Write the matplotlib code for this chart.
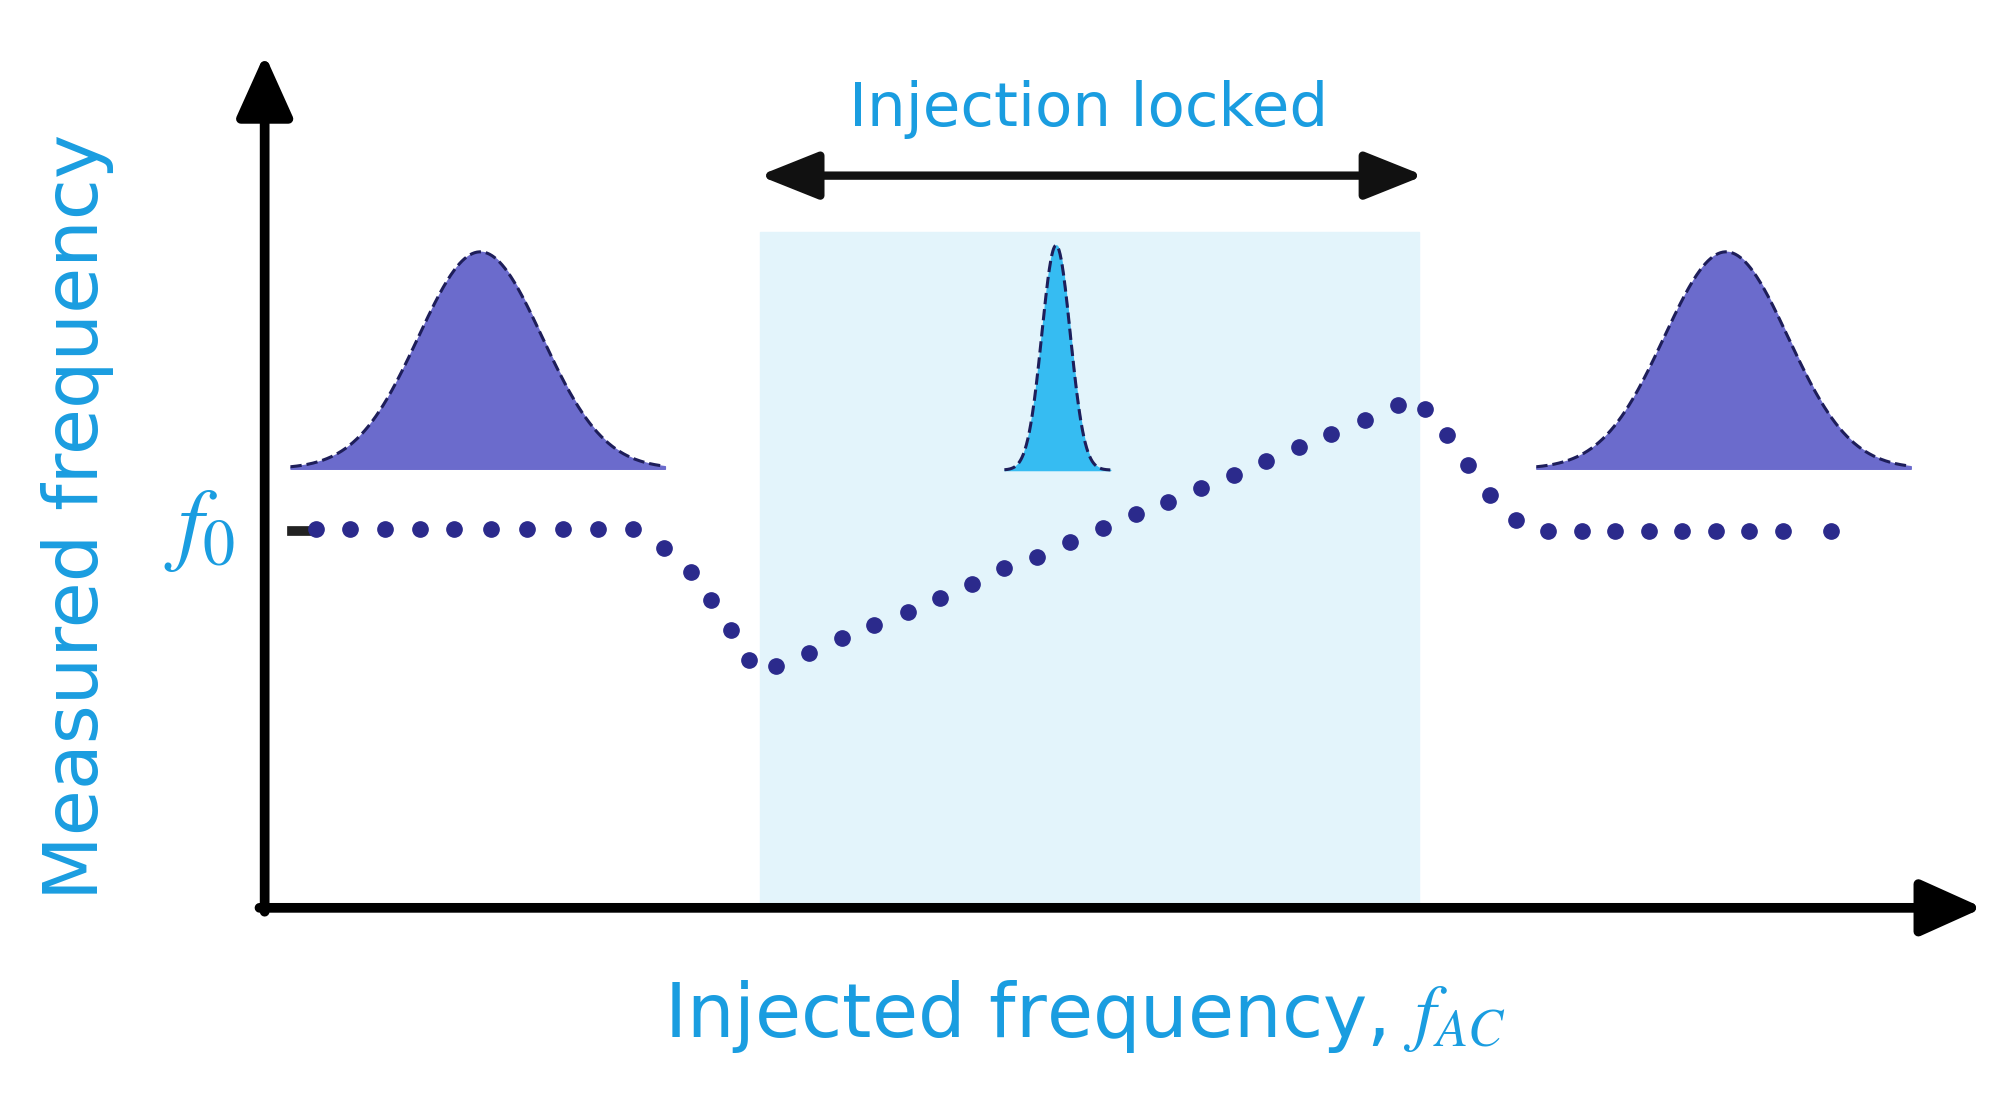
import numpy as np
import matplotlib.pyplot as plt
from matplotlib.patches import Rectangle

plt.rcParams['mathtext.fontset'] = 'stix'

# dot curve (picture coordinates, y grows downward)
DOT_X = [245, 271, 298, 325, 352, 380, 408, 436, 463, 490, 514, 535, 551, 566, 580,
         601, 627, 652, 677, 703, 728, 753, 778, 803, 829, 854, 880, 905, 930, 956,
         981, 1006, 1031, 1057, 1083, 1104, 1121, 1137, 1154, 1174, 1199, 1225, 1251,
         1277, 1303, 1329, 1355, 1381, 1418]
DOT_Y = [410, 410, 410, 410, 410, 410, 410, 410, 410, 410, 424, 443, 465, 488, 511,
         516, 506, 494, 484, 474, 463, 452, 440, 431, 420, 409, 398, 389, 378, 368,
         357, 346, 336, 325, 314, 317, 337, 360, 383, 403, 411, 411, 411,
         411, 411, 411, 411, 411, 411]

# spectra: center, sigma, x range, peak, base
PEAKS = [(372, 48, 225, 515, 195, 363, '#6b6bcc'),
         (818, 11, 778, 860, 190, 364, '#36bcf2'),
         (1337, 48, 1190, 1480, 195, 363, '#6b6bcc')]

BLUE = '#1a9de0'
NAVY = '#2b2a8c'

fig = plt.figure(figsize=(20.14, 11.08), dpi=100)
ax = fig.add_axes([0, 0, 1, 1])
ax.set_xlim(0, 1560)
ax.set_ylim(858, 0)
ax.axis('off')

ax.add_patch(Rectangle((589, 180), 510, 520, color='#e3f4fb', zorder=0))

for c, s, x0, x1, top, base, col in PEAKS:
    x = np.linspace(x0, x1, 300)
    y = base - (base - top) * np.exp(-0.5 * ((x - c) / s) ** 2)
    ax.fill_between(x, y, base, color=col, zorder=2)
    ax.plot(x, y, '--', color='#1e1e5a', lw=2.2, zorder=3)

ax.plot(DOT_X, DOT_Y, 'o', color=NAVY, ms=11, zorder=4)

# axes
head = dict(arrowstyle='-|>,head_width=0.45,head_length=1.0', lw=7, color='black',
            mutation_scale=38, shrinkA=0, shrinkB=0)
ax.annotate('', xy=(205, 42), xytext=(205, 706), arrowprops=head)
ax.annotate('', xy=(1536, 703), xytext=(201, 703), arrowprops=head)
ax.plot([226, 242], [411, 411], color='#222222', lw=7)
ax.annotate('', xy=(588, 136), xytext=(1103, 136),
            arrowprops=dict(arrowstyle='<|-|>,head_width=0.4,head_length=1.0', lw=6,
                            color='#111111', mutation_scale=36, shrinkA=0, shrinkB=0))

ax.text(843, 85, 'Injection locked', color=BLUE, fontsize=44, ha='center', va='center')
ax.text(60, 400, 'Measured frequency', color=BLUE, fontsize=54, rotation=90,
        ha='center', va='center')
ax.text(840, 787, r'Injected frequency, $\boldsymbol{f_{AC}}$', color=BLUE, fontsize=54,
        ha='center', va='center')
ax.text(155, 410, r'$\boldsymbol{f_0}$', color=BLUE, fontsize=66, ha='center', va='center')

fig.savefig('out.png', dpi=100)
